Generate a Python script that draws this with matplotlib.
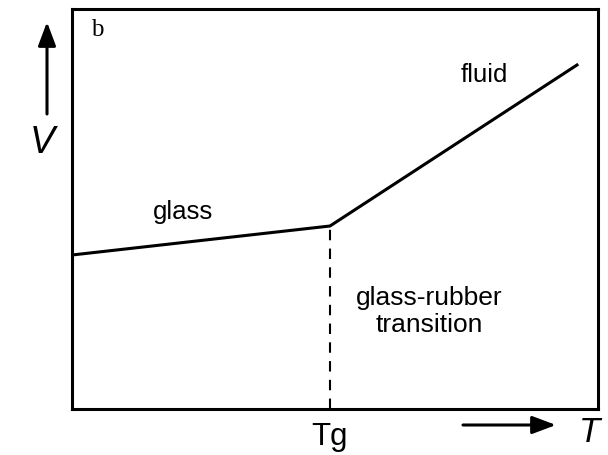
import matplotlib
matplotlib.use("Agg")
import matplotlib.pyplot as plt

W, H = 608, 455

# segment points (T, V) in axis units 0..1
temp = [0.0, 0.4905, 0.96]
volume = [0.385, 0.4575, 0.86]
tg = 0.4905

def fx(px):
    return px / W

def fy(py):
    return 1 - py / H

fig = plt.figure(figsize=(W / 100, H / 100), dpi=100)
ax = fig.add_axes([fx(72), fy(409), fx(598) - fx(72), fy(9) - fy(409)])
ax.set_xlim(0, 1)
ax.set_ylim(0, 1)
ax.set_xticks([])
ax.set_yticks([])
for s in ax.spines.values():
    s.set_linewidth(2.2)

ax.plot(temp, volume, color="black", lw=2.2, solid_joinstyle="miter")
ax.plot([tg, tg], [0, volume[1]], color="black", lw=1.5, ls=(0, (5, 4)))

sans = "Liberation Sans"
fig.text(fx(97), fy(30), "b", family="Liberation Serif", fontsize=18, ha="center", va="center")
fig.text(fx(183), fy(212), "glass", family=sans, fontsize=18.5, ha="center", va="center")
fig.text(fx(484), fy(75), "fluid", family=sans, fontsize=18.5, ha="center", va="center")
fig.text(fx(429), fy(298), "glass-rubber", family=sans, fontsize=19, ha="center", va="center")
fig.text(fx(429), fy(325), "transition", family=sans, fontsize=19, ha="center", va="center")
fig.text(fx(330), fy(437), "Tg", family=sans, fontsize=22.5, ha="center", va="center")
fig.text(fx(42), fy(143), "V", family=sans, style="italic", fontsize=27, ha="center", va="center")
fig.text(fx(589), fy(432), "T", family=sans, style="italic", fontsize=25, ha="center", va="center")

arrow = dict(arrowstyle="-|>,head_length=0.72,head_width=0.27", mutation_scale=20,
             color="black", lw=2.2, shrinkA=0, shrinkB=0)
fig.add_artist(plt.Annotation("", xy=(fx(47), fy(22)), xytext=(fx(47), fy(114)),
                              xycoords="figure fraction", textcoords="figure fraction",
                              arrowprops=arrow))
fig.add_artist(plt.Annotation("", xy=(fx(556), fy(425)), xytext=(fx(463), fy(425)),
                              xycoords="figure fraction", textcoords="figure fraction",
                              arrowprops=arrow))

fig.savefig("out.png", dpi=100)
